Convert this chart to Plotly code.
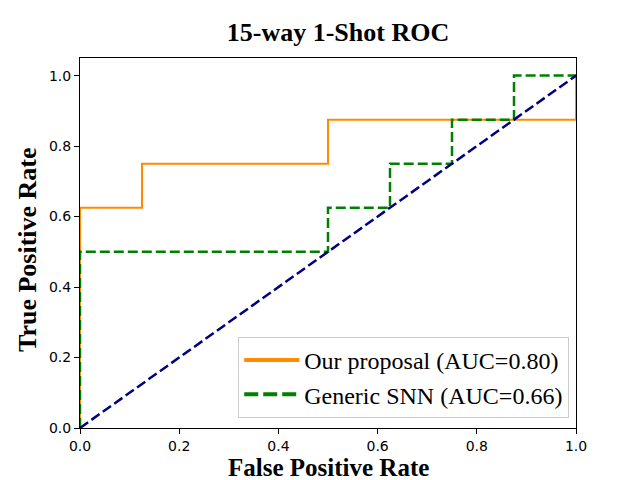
import plotly.graph_objects as go

# ROC points
fpr_ours = [0, 0, 0.125, 0.125, 0.5, 0.5, 1, 1]
tpr_ours = [0, 0.625, 0.625, 0.75, 0.75, 0.875, 0.875, 1]
fpr_snn = [0, 0, 0.5, 0.5, 0.625, 0.625, 0.75, 0.75, 0.875, 0.875, 1]
tpr_snn = [0, 0.5, 0.5, 0.625, 0.625, 0.75, 0.75, 0.875, 0.875, 1, 1]
chance = [0, 1]
names = ["Our proposal (AUC=0.80)", "Generic SNN (AUC=0.66)"]
ticks = [0.0, 0.2, 0.4, 0.6, 0.8, 1.0]

serif = "Liberation Serif, Times New Roman, serif"

fig = go.Figure()
fig.add_trace(go.Scatter(x=fpr_ours, y=tpr_ours, mode="lines",
                         line=dict(color="darkorange", width=2), showlegend=False))
fig.add_trace(go.Scatter(x=fpr_snn, y=tpr_snn, mode="lines",
                         line=dict(color="green", width=2.5, dash="10px,4px"), showlegend=False))
fig.add_trace(go.Scatter(x=chance, y=chance, mode="lines",
                         line=dict(color="navy", width=2.5, dash="10px,4px"), showlegend=False))
# legend entries drawn with thicker lines, like the original
fig.add_trace(go.Scatter(x=[None], y=[None], mode="lines", name=names[0], legendgroup="a",
                         line=dict(color="darkorange", width=4)))
fig.add_trace(go.Scatter(x=[None], y=[None], mode="lines", name=names[1], legendgroup="b",
                         line=dict(color="green", width=4, dash="14px,5px")))

axis = dict(showgrid=False, zeroline=False, showline=True, linecolor="black", linewidth=1,
            mirror=True, ticks="outside", ticklen=5, tickcolor="black",
            tickvals=ticks, ticktext=["%.1f" % t for t in ticks],
            tickfont=dict(family="DejaVu Sans", size=14, color="black"))

# page body adds 8px offset, so the figure is 8px smaller on each side
fig.update_layout(
    width=632, height=472,
    margin=dict(l=72, r=64, t=50, b=52),
    paper_bgcolor="white", plot_bgcolor="white",
    title=dict(text="<b>15-way 1-Shot ROC</b>", x=(338 - 8) / 632, xanchor="center",
               y=1 - 24 / 472, yanchor="middle", yref="container",
               font=dict(family=serif, size=26, color="black")),
    xaxis=dict(range=[0, 1], **axis),
    yaxis=dict(range=[0, 1.05], **axis),
    legend=dict(x=0.319, y=0.246, xanchor="left", yanchor="top",
                bgcolor="rgba(255,255,255,0.8)", bordercolor="#cccccc", borderwidth=1,
                font=dict(family=serif, size=24, color="black"),
                traceorder="grouped", tracegroupgap=0, itemwidth=55),
)

fig.add_annotation(text="<b>False Positive Rate</b>", xref="paper", yref="paper",
                   x=0.5, y=(428 - 467) / 370, xanchor="center", yanchor="middle",
                   showarrow=False, font=dict(family=serif, size=25, color="black"))
fig.add_annotation(text="<b>True Positive Rate</b>", xref="paper", yref="paper",
                   x=(27 - 80) / 496, y=(428 - 250) / 370, xanchor="center", yanchor="middle",
                   textangle=-90, showarrow=False, font=dict(family=serif, size=26, color="black"))

fig.write_html("out.html")
